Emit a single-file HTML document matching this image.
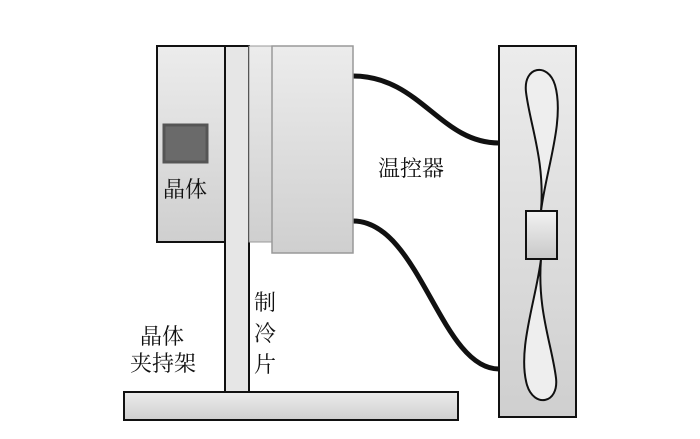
<!DOCTYPE html>
<html><head><meta charset="utf-8"><style>
body{margin:0;background:#fff;width:700px;height:434px;overflow:hidden}
text{font-family:"Liberation Serif","Noto Serif CJK SC",serif;font-size:22px;fill:#111}
</style></head><body>
<svg width="700" height="434" viewBox="0 0 700 434">
<defs>
<linearGradient id="g" x1="0" y1="0" x2="0" y2="1"><stop offset="0" stop-color="#ececec"/><stop offset="1" stop-color="#cfcfcf"/></linearGradient>
<linearGradient id="h" x1="0" y1="0" x2="0" y2="1"><stop offset="0" stop-color="#f2f2f2"/><stop offset="1" stop-color="#c8c8c8"/></linearGradient>
</defs>
<path d="M353 76 C420 76,440 143,499 143" fill="none" stroke="#111" stroke-width="5"/>
<path d="M353 221 C420 221,440 369,499 369" fill="none" stroke="#111" stroke-width="5"/>
<rect x="157" y="46" width="68" height="196" fill="url(#g)" stroke="#111" stroke-width="2"/>
<rect x="164" y="125" width="43" height="37" fill="#6a6a6a" stroke="#555" stroke-width="3"/>
<rect x="124" y="392" width="334" height="28" fill="url(#g)" stroke="#111" stroke-width="2"/>
<rect x="225" y="46" width="24" height="346" fill="#e6e6e6" stroke="#111" stroke-width="2"/>
<rect x="249" y="46" width="24" height="196" fill="url(#g)" stroke="#999" stroke-width="1"/>
<rect x="272" y="46" width="81" height="207" fill="url(#g)" stroke="#999" stroke-width="1.5"/>
<rect x="499" y="46" width="77" height="371" fill="url(#g)" stroke="#111" stroke-width="2"/>
<path d="M541 211 C546 170,565 120,555 85 C548 62,523 66,526 92 C530 125,545 160,541 211 Z" fill="#eee" stroke="#111" stroke-width="2"/>
<path d="M541 259 C536 300,517 350,527 385 C534 408,559 404,556 378 C552 345,537 310,541 259 Z" fill="#eee" stroke="#111" stroke-width="2"/>
<rect x="526" y="211" width="31" height="48" fill="url(#h)" stroke="#111" stroke-width="2"/>
<text x="163" y="197">晶体</text>
<text x="378" y="176">温控器</text>
<text x="254" y="310">制</text>
<text x="254" y="341">冷</text>
<text x="254" y="372">片</text>
<text x="140" y="344">晶体</text>
<text x="130" y="371">夹持架</text>
</svg>
</body></html>
